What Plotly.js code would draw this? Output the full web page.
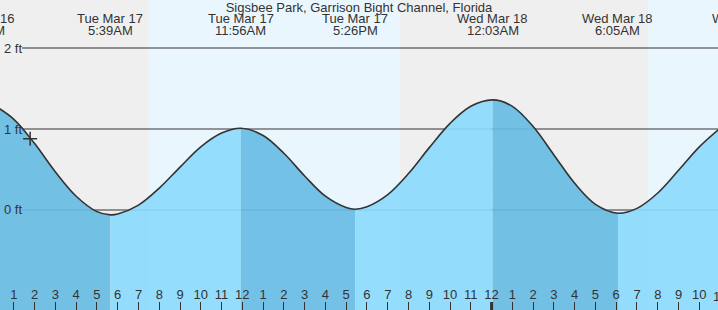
<!DOCTYPE html>
<html>
<head>
<meta charset="utf-8">
<script src="https://cdn.plot.ly/plotly-3.0.1.min.js"></script>
<style>
  html, body { margin: 0; padding: 0; background: #ffffff; }
  #chart { width: 718px; height: 310px; }
</style>
</head>
<body>
<div id="chart"></div>
<script>
// ---- Data ----
const chartTitle = "Sigsbee Park, Garrison Bight Channel, Florida";

// Tide height curve (ft), hourly readings plus the extremes
const curveTimes = [
  "2026-03-17 00:00","2026-03-17 01:00","2026-03-17 02:00","2026-03-17 03:00","2026-03-17 04:00",
  "2026-03-17 05:00","2026-03-17 05:39","2026-03-17 06:00","2026-03-17 07:00","2026-03-17 08:00",
  "2026-03-17 09:00","2026-03-17 10:00","2026-03-17 11:00","2026-03-17 11:56","2026-03-17 13:00",
  "2026-03-17 14:00","2026-03-17 15:00","2026-03-17 16:00","2026-03-17 17:00","2026-03-17 17:26",
  "2026-03-17 18:00","2026-03-17 19:00","2026-03-17 20:00","2026-03-17 21:00","2026-03-17 22:00",
  "2026-03-17 23:00","2026-03-18 00:03","2026-03-18 01:00","2026-03-18 02:00","2026-03-18 03:00",
  "2026-03-18 04:00","2026-03-18 05:00","2026-03-18 06:05","2026-03-18 07:00","2026-03-18 08:00",
  "2026-03-18 09:00","2026-03-18 10:00","2026-03-18 11:00"
];
const curveHeights = [
  1.30, 1.12, 0.82, 0.47, 0.17,
  -0.02, -0.06, -0.05, 0.06, 0.27,
  0.53, 0.78, 0.95, 1.01, 0.92,
  0.70, 0.42, 0.17, 0.03, 0.01,
  0.04, 0.19, 0.45, 0.77, 1.07,
  1.28, 1.36, 1.28, 1.03, 0.68,
  0.33, 0.07, -0.04, 0.02, 0.21,
  0.49, 0.78, 1.01
];

// High / low tide events (labels at the top)
const extremeTimes = ["2026-03-16 23:22","2026-03-17 05:39","2026-03-17 11:56","2026-03-17 17:26","2026-03-18 00:03","2026-03-18 06:05","2026-03-18 12:20"];
const extremeDays  = ["Mon Mar 16","Tue Mar 17","Tue Mar 17","Tue Mar 17","Wed Mar 18","Wed Mar 18","Wed Mar 18"];
const extremeClock = ["11:22PM","5:39AM","11:56AM","5:26PM","12:03AM","6:05AM","12:20PM"];

// Day / night bands
const nightStarts = ["2026-03-17 00:00","2026-03-17 19:35"];
const nightEnds   = ["2026-03-17 07:30","2026-03-18 07:32"];
const dayStarts   = ["2026-03-17 07:30","2026-03-18 07:32"];
const dayEnds     = ["2026-03-17 19:35","2026-03-18 12:00"];

// Current-time marker
const nowTime = ["2026-03-17 01:47"];
const nowHeight = [0.88];

// Height grid levels and their labels
const gridLevels = [2, 1, 0];
const gridLabels = ["2 ft", "1 ft", "0 ft"];

// Hour ticks along the bottom
const tickTimes = [
  "2026-03-17 01:00","2026-03-17 02:00","2026-03-17 03:00","2026-03-17 04:00","2026-03-17 05:00","2026-03-17 06:00",
  "2026-03-17 07:00","2026-03-17 08:00","2026-03-17 09:00","2026-03-17 10:00","2026-03-17 11:00","2026-03-17 12:00",
  "2026-03-17 13:00","2026-03-17 14:00","2026-03-17 15:00","2026-03-17 16:00","2026-03-17 17:00","2026-03-17 18:00",
  "2026-03-17 19:00","2026-03-17 20:00","2026-03-17 21:00","2026-03-17 22:00","2026-03-17 23:00","2026-03-18 00:00",
  "2026-03-18 01:00","2026-03-18 02:00","2026-03-18 03:00","2026-03-18 04:00","2026-03-18 05:00","2026-03-18 06:00",
  "2026-03-18 07:00","2026-03-18 08:00","2026-03-18 09:00","2026-03-18 10:00"
];
const tickLabels = [
  "1","2","3","4","5","6","7","8","9","10","11","12",
  "1","2","3","4","5","6","7","8","9","10","11","12",
  "1","2","3","4","5","6","7","8","9","10"
];
// hour label just past the right edge (only partly visible)
const edgeTickTime = "2026-03-18 11:00";
const edgeTickLabel = "11";
const midnightTick = "2026-03-18 00:00";

// ---- Layout constants ----
const W = 718, H = 310;
const xRange = ["2026-03-17 00:19:56", "2026-03-18 10:54:00"];
const yRange = [-1.235, 2.593];
const FONT = "Liberation Sans, Arial, sans-serif";
const TXT = "#333333";
const LIGHT_FILL = "rgba(140,218,252,0.92)";
const DARK_FILL = "rgba(104,188,228,0.92)";

function ms(s) { return new Date(s.replace(" ", "T") + "Z").getTime(); }
const x0ms = ms(xRange[0]), x1ms = ms(xRange[1]);
function paperX(s) { return (ms(s) - x0ms) / (x1ms - x0ms); }

// ---- Traces ----
const traces = [];
// fill segments between consecutive extremes (falling = dark, rising = light)
const bounds = [curveTimes[0]].concat(extremeTimes.slice(1, 6)).concat([curveTimes[curveTimes.length - 1]]);
for (let s = 0; s < bounds.length - 1; s++) {
  const a = ms(bounds[s]), b = ms(bounds[s + 1]);
  const sx = [], sy = [];
  curveTimes.forEach((t, i) => { const m = ms(t); if (m >= a && m <= b) { sx.push(t); sy.push(curveHeights[i]); } });
  const falling = sy[0] > sy[sy.length - 1];
  traces.push({
    x: [sx[0], sx[sx.length - 1]], y: [-3, -3], type: "scatter", mode: "lines",
    line: { width: 0 }, hoverinfo: "skip", showlegend: false
  });
  traces.push({
    x: sx, y: sy, type: "scatter", mode: "lines", fill: "tonexty",
    fillcolor: falling ? DARK_FILL : LIGHT_FILL,
    line: { width: 0, shape: "spline" }, hoverinfo: "skip", showlegend: false
  });
}
// tide curve outline
traces.push({
  x: curveTimes, y: curveHeights, type: "scatter", mode: "lines",
  line: { color: "#333333", width: 1.6, shape: "spline" },
  hoverinfo: "x+y", showlegend: false
});
// current time marker
traces.push({
  x: nowTime, y: nowHeight, type: "scatter", mode: "markers",
  marker: { symbol: "cross-thin", size: 10, line: { color: "#333333", width: 1.5 } },
  hoverinfo: "skip", showlegend: false
});

// ---- Shapes ----
const shapes = [];
nightStarts.forEach((t, i) => shapes.push({
  type: "rect", xref: "x", yref: "paper", x0: t, x1: nightEnds[i], y0: 0, y1: 1,
  fillcolor: "#efefef", line: { width: 0 }, layer: "below"
}));
dayStarts.forEach((t, i) => shapes.push({
  type: "rect", xref: "x", yref: "paper", x0: t, x1: dayEnds[i], y0: 0, y1: 1,
  fillcolor: "#eaf6fe", line: { width: 0 }, layer: "below"
}));
gridLevels.forEach(v => shapes.push({
  type: "line", xref: "paper", yref: "y", x0: 22 / W, x1: 1, y0: v, y1: v,
  line: { color: "#333333", width: 1.2 }, layer: "below"
}));
shapes.push({
  type: "line", xref: "x", yref: "paper", x0: midnightTick, x1: midnightTick, y0: 0, y1: 8 / H,
  line: { color: "#333333", width: 3 }, layer: "above"
});

// ---- Annotations ----
const annotations = [];
gridLevels.forEach((v, i) => annotations.push({
  xref: "paper", yref: "y", x: 2 / W, y: v, xanchor: "left", yanchor: "middle",
  text: gridLabels[i], showarrow: false, font: { family: FONT, size: 13, color: TXT }
}));
extremeTimes.forEach((t, i) => {
  const px = paperX(t);
  annotations.push({
    xref: "paper", yref: "paper", x: px, y: 1 - 18 / H, xanchor: "center", yanchor: "middle",
    text: extremeDays[i], showarrow: false, font: { family: FONT, size: 13, color: TXT }
  });
  annotations.push({
    xref: "paper", yref: "paper", x: px, y: 1 - 31 / H, xanchor: "center", yanchor: "middle",
    text: extremeClock[i], showarrow: false, font: { family: FONT, size: 13, color: TXT }
  });
});
annotations.push({
  xref: "paper", yref: "paper", x: paperX(edgeTickTime), y: 14 / H, xanchor: "center", yanchor: "middle",
  text: edgeTickLabel, showarrow: false, font: { family: FONT, size: 13, color: TXT }
});

const layout = {
  width: W, height: H,
  margin: { l: 0, r: 0, t: 0, b: 0, pad: 0 },
  paper_bgcolor: "#ffffff", plot_bgcolor: "#ffffff",
  title: { text: chartTitle, font: { family: FONT, size: 13, color: TXT },
           x: 0.5, xanchor: "center", y: 1 - 7 / H, yanchor: "middle", yref: "container" },
  showlegend: false,
  xaxis: {
    type: "date", range: xRange, fixedrange: true,
    tickmode: "array", tickvals: tickTimes, ticktext: tickLabels,
    ticks: "inside", ticklen: 8, tickwidth: 1, tickcolor: "#333333",
    ticklabelposition: "inside", ticklabelstandoff: 0,
    tickfont: { family: FONT, size: 13, color: TXT },
    showgrid: false, zeroline: false, showline: false
  },
  yaxis: {
    range: yRange, fixedrange: true, showgrid: false, zeroline: false,
    showticklabels: false, ticks: "", showline: false
  },
  shapes: shapes,
  annotations: annotations
};

Plotly.newPlot("chart", traces, layout, { displayModeBar: false, staticPlot: false });
</script>
</body>
</html>
